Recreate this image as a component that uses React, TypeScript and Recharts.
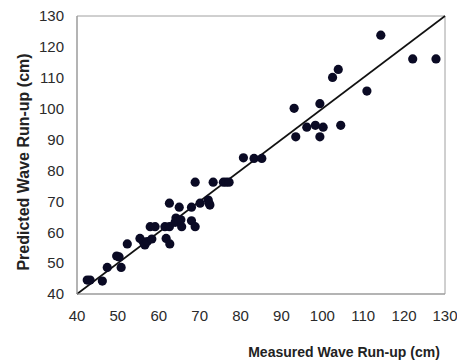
import React from "react";
import {
  ScatterChart,
  Scatter,
  XAxis,
  YAxis,
  ReferenceLine,
  ReferenceArea,
  Label,
} from "recharts";

const measured: number[] = [
  42.5, 43.2, 46.2, 47.4, 49.7, 50.3, 50.8, 52.3, 55.4, 56.2, 56.6, 57.2, 58.3,
  57.9, 59.1, 61.5, 62.6, 61.8, 62.7, 62.6, 64.2, 64.8, 64.0, 65.0, 65.6, 65.4,
  68.0, 68.0, 68.9, 70.1, 68.9, 72.5, 72.1, 72.3, 73.3, 75.8, 76.5, 77.2, 80.7,
  83.3, 85.2, 93.1, 93.5, 96.2, 98.3, 99.4, 99.4, 100.2, 102.5, 103.9, 104.5,
  110.9, 114.3, 122.1, 127.8,
];
const predicted: number[] = [
  44.5, 44.5, 44.2, 48.6, 52.3, 52.0, 48.6, 56.2, 58.0, 56.9, 55.9, 57.0, 57.8,
  61.8, 61.8, 61.8, 61.8, 58.0, 56.2, 69.4, 64.6, 63.6, 63.2, 68.1, 61.8, 64.0,
  68.1, 63.7, 61.8, 69.4, 76.2, 68.8, 70.4, 69.4, 76.2, 76.2, 76.2, 76.2, 84.1,
  83.9, 83.9, 100.1, 90.9, 94.0, 94.6, 101.6, 90.9, 94.0, 110.1, 112.7, 94.6,
  105.7, 123.8, 116.1, 116.1,
];
const ticks: number[] = [40, 50, 60, 70, 80, 90, 100, 110, 120, 130];

const data = measured.map((m, i) => ({ x: m, y: predicted[i] }));

const font = "Arial, 'Liberation Sans', sans-serif";

const Dot = (props: any) => (
  <circle cx={props.cx} cy={props.cy} r={4.6} fill="#0a0a24" />
);

export default function App() {
  return (
    <div style={{ position: "absolute", left: 0, top: 0 }}>
      <ScatterChart
        width={457}
        height={362}
        margin={{ top: 16, right: 12, left: 0, bottom: 0 }}
      >
        <XAxis
          type="number"
          dataKey="x"
          domain={[40, 130]}
          ticks={ticks}
          interval={0}
          tickLine={false}
          tickSize={0}
          tickMargin={16}
          height={68}
          axisLine={{ stroke: "#999" }}
          tick={{ fill: "#2a2a2a", fontSize: 15, fontFamily: font }}
        >
          <Label
            content={() => (
              <text
                x={344}
                y={357}
                textAnchor="middle"
                fill="#222"
                fontSize={14}
                fontWeight="bold"
                fontFamily={font}
              >
                Measured Wave Run-up (cm)
              </text>
            )}
          />
        </XAxis>
        <YAxis
          type="number"
          dataKey="y"
          domain={[40, 130]}
          ticks={ticks}
          interval={0}
          tickLine={false}
          tickSize={0}
          tickMargin={13}
          width={77}
          axisLine={{ stroke: "#999" }}
          tick={{ fill: "#2a2a2a", fontSize: 15, fontFamily: font }}
        >
          <Label
            content={() => (
              <text
                x={23}
                y={162}
                transform="rotate(-90 23 162)"
                textAnchor="middle"
                dominantBaseline="central"
                fill="#222"
                fontSize={16}
                fontWeight="bold"
                fontFamily={font}
              >
                Predicted Wave Run-up (cm)
              </text>
            )}
          />
        </YAxis>
        <ReferenceArea
          x1={40}
          x2={130}
          y1={40}
          y2={130}
          fill="none"
          stroke="#a0a0a0"
          strokeWidth={1}
          ifOverflow="visible"
        />
        <ReferenceLine
          segment={[
            { x: 40, y: 40 },
            { x: 130, y: 130 },
          ]}
          stroke="#111"
          strokeWidth={1.6}
          ifOverflow="visible"
        />
        <Scatter data={data} shape={Dot} isAnimationActive={false} />
      </ScatterChart>
    </div>
  );
}
